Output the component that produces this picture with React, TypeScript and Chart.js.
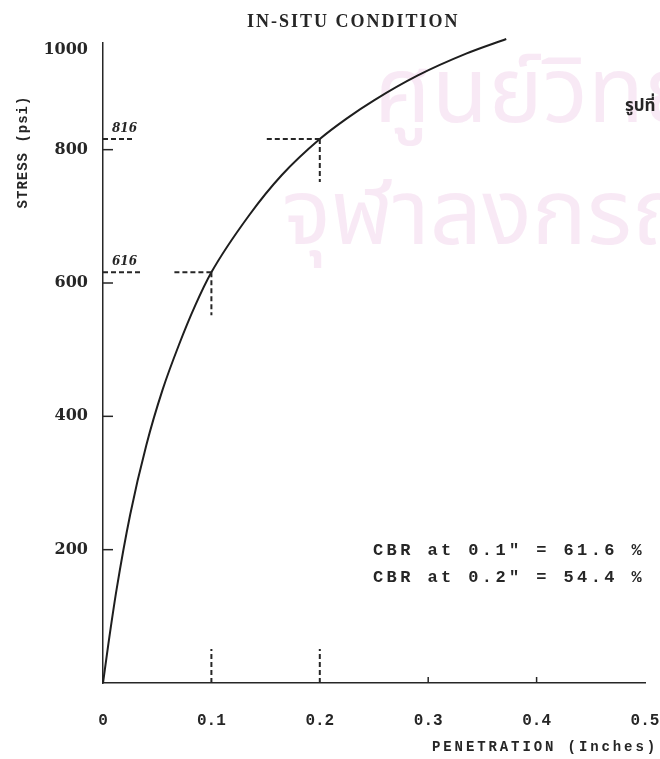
import React, { useEffect, useRef } from 'react';
import { Chart, registerables } from 'chart.js';

Chart.register(...registerables);

// Load–penetration curve (penetration in inches, stress in psi)
const penetration = [0, 0.005, 0.0125, 0.025, 0.04, 0.055, 0.07, 0.085, 0.1, 0.135, 0.165, 0.2, 0.225, 0.25, 0.29, 0.335, 0.372];
const stress = [0, 59, 140, 252, 357, 440, 507, 566, 616, 702, 762, 816, 847, 874, 911, 944, 966];

// CBR read-off points and the standard loads they are compared to
const cbrPenetration = [0.1, 0.2];
const cbrStress = [616, 816];
const standardStress = [1000, 1500];

// Axis ticks
const xTickValues = [0, 0.1, 0.2, 0.3, 0.4, 0.5];
const xTickLabels = ['0', '0.1', '0.2', '0.3', '0.4', '0.5'];
const yTickValues = [200, 400, 600, 800, 950];
const yTickLabels = ['200', '400', '600', '800', '1000'];
const yAxisMax = 960;

const INK = '#262626';
const MONO = '"Liberation Mono", "DejaVu Sans Mono", monospace';
const SERIF = '"Liberation Serif", "DejaVu Serif", serif';

function seg(ctx: CanvasRenderingContext2D, x1: number, y1: number, x2: number, y2: number) {
  ctx.beginPath();
  ctx.moveTo(x1, y1);
  ctx.lineTo(x2, y2);
  ctx.stroke();
}

function spacedText(ctx: CanvasRenderingContext2D, text: string, x: number, y: number, font: string, spacing: number) {
  ctx.font = font;
  (ctx as any).letterSpacing = `${spacing}px`;
  ctx.fillText(text, x, y);
  (ctx as any).letterSpacing = '0px';
}

const backdropPlugin = {
  id: 'backdrop',
  beforeDraw(chart: any) {
    const { ctx, width, height } = chart;
    ctx.save();
    ctx.fillStyle = '#ffffff';
    ctx.fillRect(0, 0, width, height);
    // faint library stamp behind the plot
    ctx.fillStyle = 'rgba(214, 120, 190, 0.16)';
    ctx.textBaseline = 'alphabetic';
    ctx.textAlign = 'left';
    ctx.font = '92px "Noto Sans Thai", "Noto Sans", sans-serif';
    ctx.fillText('ศูนย์วิทยทรัพยากร', 374, 122);
    ctx.fillText('จุฬาลงกรณ์มหาวิทยาลัย', 282, 244);
    ctx.restore();
  },
};

const annotationPlugin = {
  id: 'cbrAnnotations',
  afterDatasetsDraw(chart: any) {
    const { ctx, chartArea, scales } = chart;
    const xs = scales.x;
    const ys = scales.y;
    ctx.save();
    ctx.strokeStyle = INK;
    ctx.fillStyle = INK;

    // short tick marks on the inside of both axes
    ctx.lineWidth = 1.5;
    ctx.setLineDash([]);
    yTickValues.slice(0, 4).forEach((v) => {
      const py = ys.getPixelForValue(v);
      seg(ctx, chartArea.left, py, chartArea.left + 10, py);
    });
    xTickValues.slice(3, 5).forEach((v) => {
      const px = xs.getPixelForValue(v);
      seg(ctx, px, chartArea.bottom, px, chartArea.bottom - 6);
    });

    // dashed guides at the CBR read-off points
    const axisDash = [37, 30];
    const leadDash = [37, 53];
    ctx.lineWidth = 2;
    ctx.setLineDash([5, 3]);
    cbrPenetration.forEach((pen, i) => {
      const px = xs.getPixelForValue(pen);
      const py = ys.getPixelForValue(cbrStress[i]);
      seg(ctx, chartArea.left, py, chartArea.left + axisDash[i], py);
      seg(ctx, px - leadDash[i], py, px, py);
      seg(ctx, px, py, px, py + 43);
      seg(ctx, px, chartArea.bottom, px, chartArea.bottom - 34);
    });
    ctx.setLineDash([]);

    // hand-written values above the axis dashes
    ctx.textAlign = 'left';
    ctx.textBaseline = 'alphabetic';
    ctx.font = 'bold italic 12px "DejaVu Serif", serif';
    cbrPenetration.forEach((_, i) => {
      const py = ys.getPixelForValue(cbrStress[i]);
      ctx.fillText(String(cbrStress[i]), chartArea.left + 9, py - 7);
    });

    // CBR results
    cbrPenetration.forEach((pen, i) => {
      const pct = ((cbrStress[i] / standardStress[i]) * 100).toFixed(1);
      spacedText(ctx, `CBR at ${pen.toFixed(1)}" = ${pct} %`, chartArea.right - 272, 555 + i * 27, `bold 17px ${MONO}`, 3.4);
    });

    // title and axis titles
    spacedText(ctx, 'IN-SITU CONDITION', 247, 27, `bold 18px ${SERIF}`, 2);
    spacedText(ctx, 'PENETRATION (Inches)', 432, 751, `bold 14px ${MONO}`, 2.9);
    ctx.save();
    ctx.translate(27, 152);
    ctx.rotate(-Math.PI / 2);
    ctx.textAlign = 'center';
    spacedText(ctx, 'STRESS (psi)', 0, 0, `bold 14px ${MONO}`, 1);
    ctx.restore();

    // figure caption fragment at the right edge
    ctx.font = 'bold 17px "Noto Sans Thai", "Noto Sans", sans-serif';
    ctx.fillText('รูปที่', 625, 111);

    ctx.restore();
  },
};

export default function App() {
  const canvasRef = useRef<HTMLCanvasElement | null>(null);

  useEffect(() => {
    if (!canvasRef.current) return;
    const chart = new Chart(canvasRef.current, {
      type: 'line',
      data: {
        datasets: [
          {
            data: penetration.map((p, i) => ({ x: p, y: stress[i] })),
            borderColor: '#1e1e1e',
            borderWidth: 2,
            pointRadius: 0,
            cubicInterpolationMode: 'monotone',
            fill: false,
            clip: false as any,
          },
        ],
      },
      plugins: [backdropPlugin, annotationPlugin],
      options: {
        animation: false,
        responsive: false,
        events: [],
        layout: { padding: { top: 43, right: 15, bottom: 0, left: 0 } },
        plugins: { legend: { display: false }, tooltip: { enabled: false }, title: { display: false } },
        scales: {
          x: {
            type: 'linear',
            min: 0,
            max: 0.5,
            afterFit: (scale: any) => {
              scale.height = 76;
              scale.paddingLeft = 0;
              scale.paddingRight = 0;
            },
            afterBuildTicks: (scale: any) => {
              scale.ticks = xTickValues.map((v) => ({ value: v }));
            },
            grid: { display: false, drawTicks: false },
            border: { display: true, color: INK, width: 1.5 },
            ticks: {
              padding: 28,
              color: INK,
              maxRotation: 0,
              autoSkip: false,
              font: { family: MONO, size: 16, weight: 'bold' },
              callback: (v: any) => xTickLabels[xTickValues.indexOf(Number(v))] ?? '',
            },
          },
          y: {
            type: 'linear',
            min: 0,
            max: yAxisMax,
            afterFit: (scale: any) => {
              scale.width = 103;
              scale.paddingTop = 0;
              scale.paddingBottom = 0;
            },
            afterBuildTicks: (scale: any) => {
              scale.ticks = yTickValues.map((v) => ({ value: v }));
            },
            grid: { display: false, drawTicks: false },
            border: { display: true, color: INK, width: 1.5 },
            ticks: {
              padding: 15,
              color: INK,
              autoSkip: false,
              font: { family: '"DejaVu Serif", serif', size: 16, weight: 'bold' },
              callback: (v: any) => yTickLabels[yTickValues.indexOf(Number(v))] ?? '',
            },
          },
        },
      },
    } as any);
    return () => chart.destroy();
  }, []);

  return (
    <div style={{ position: 'absolute', left: 0, top: 0, width: 660, height: 759, background: '#fff' }}>
      <canvas ref={canvasRef} width={660} height={759} style={{ width: 660, height: 759, display: 'block' }} />
    </div>
  );
}
